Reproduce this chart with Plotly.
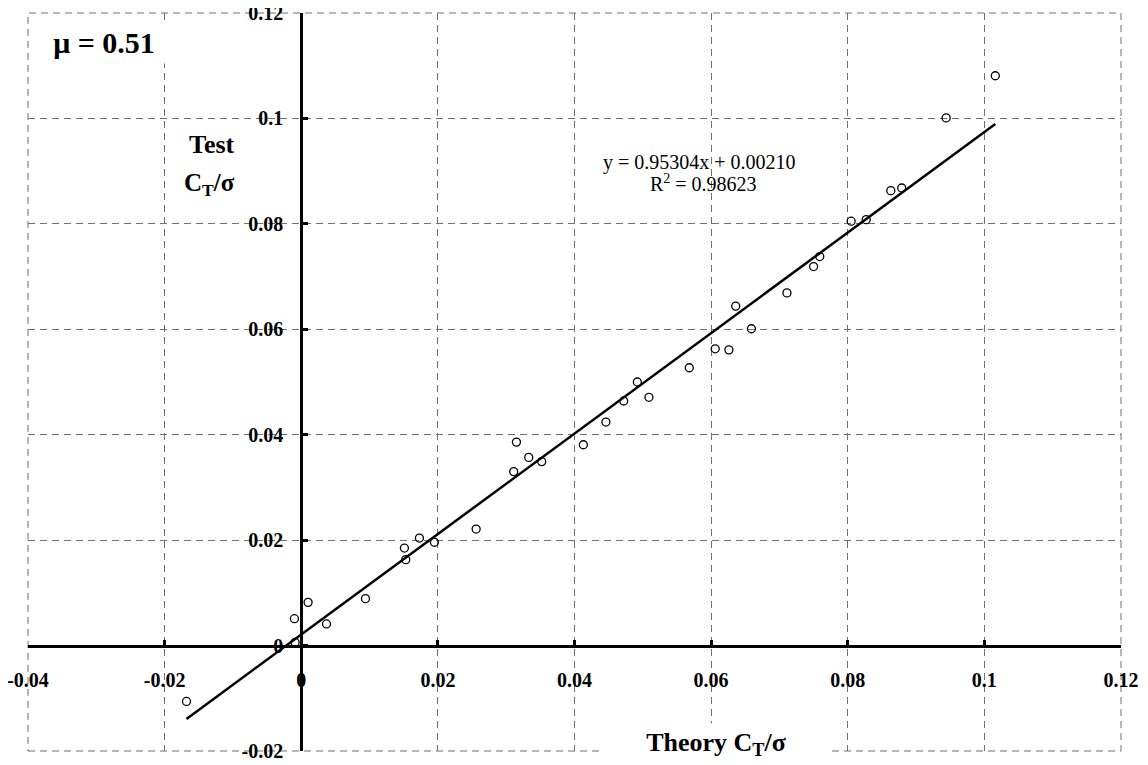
import plotly.graph_objects as go

# theory vs test thrust coefficient, mu = 0.51
theory_ct = [-0.0168, -0.0010, -0.0009, 0.0010, 0.0037, 0.0094, 0.0151, 0.0153,
             0.0173, 0.0195, 0.0256, 0.0311, 0.0315, 0.0333, 0.0352, 0.0413,
             0.0446, 0.0472, 0.0492, 0.0509, 0.0568, 0.0606, 0.0626, 0.0636,
             0.0659, 0.0711, 0.0750, 0.0759, 0.0805, 0.0827, 0.0863, 0.0879,
             0.0944, 0.1016]
test_ct = [-0.0106, 0.0051, 0.0006, 0.0082, 0.0041, 0.0089, 0.0185, 0.0163,
           0.0204, 0.0196, 0.0221, 0.0330, 0.0386, 0.0357, 0.0349, 0.0381,
           0.0424, 0.0464, 0.0500, 0.0471, 0.0527, 0.0563, 0.0561, 0.0644,
           0.0601, 0.0669, 0.0719, 0.0738, 0.0805, 0.0808, 0.0863, 0.0868,
           0.1001, 0.1081]

slope = 0.95304
intercept = 0.00210
r_squared = 0.98623
mu = 0.51

x_ticks = [-0.04, -0.02, 0, 0.02, 0.04, 0.06, 0.08, 0.1, 0.12]
x_ticktext = ["-0.04", "-0.02", "0", "0.02", "0.04", "0.06", "0.08", "0.1", "0.12"]
y_ticks = [-0.02, 0, 0.02, 0.04, 0.06, 0.08, 0.1, 0.12]
y_ticktext = ["-0.02", "0", "0.02", "0.04", "0.06", "0.08", "0.1", "0.12"]

FONT = "Liberation Serif"
GRID = "#707070"
DASH = "7px,5px"
EPS = 1e-7  # keeps the end ticks (0.12) inside the range

fig = go.Figure()

# trendline across the data span
x_fit = [min(theory_ct), max(theory_ct)]
y_fit = [slope * v + intercept for v in x_fit]
fig.add_trace(go.Scatter(x=x_fit, y=y_fit, mode="lines",
                         line=dict(color="black", width=2.5), hoverinfo="skip"))

fig.add_trace(go.Scatter(x=theory_ct, y=test_ct, mode="markers",
                         marker=dict(symbol="circle-open", size=8, color="black",
                                     line=dict(width=1.3, color="black"))))

grid = dict(showgrid=True, gridcolor=GRID, gridwidth=1, griddash=DASH,
            zeroline=False, showline=True, linecolor="black", linewidth=3,
            ticks="inside", ticklen=5, tickwidth=2.5, tickcolor="black",
            automargin=False, ticklabeloverflow="allow",
            tickfont=dict(family=FONT, size=20, color="black", weight="bold"))

# page body adds 8px, so the figure is 8px smaller each way
fig.update_layout(
    width=1140, height=757,
    margin=dict(l=20, r=26.5, t=5, b=14.3),
    paper_bgcolor="white", plot_bgcolor="white",
    font=dict(family=FONT, color="black"),
    showlegend=False,
    xaxis=dict(range=[-0.04 - EPS, 0.12 + EPS], tickvals=x_ticks, ticktext=x_ticktext,
               anchor="free", position=1 / 7, ticklabelstandoff=15, **grid),
    yaxis=dict(range=[-0.02 - EPS, 0.12 + EPS], tickvals=y_ticks, ticktext=y_ticktext,
               anchor="free", position=0.25, ticklabelstandoff=13, **grid),
)

# dashed frame round the plot area (outer gridlines)
fig.add_shape(type="rect", xref="paper", yref="paper", x0=0, y0=0, x1=1, y1=1,
              line=dict(color=GRID, width=1, dash=DASH), layer="below")

bold = dict(family=FONT, color="black", weight="bold")
label = dict(xref="paper", yref="paper", showarrow=False,
             xanchor="center", yanchor="middle")
fig.add_annotation(x=0.0695, y=0.9607, text=f"μ = {mu}",
                   font=dict(size=30, **bold), bgcolor="white", width=122,
                   borderpad=4, **label)
fig.add_annotation(x=0.1683, y=0.8223, text="Test", font=dict(size=26, **bold), **label)
fig.add_annotation(x=0.1665, y=0.768, text="C<sub>T</sub>/σ",
                   font=dict(size=25, **bold), **label)
fig.add_annotation(x=0.6295, y=0.010, text="Theory C<sub>T</sub>/σ",
                   font=dict(size=26, **bold), bgcolor="white", width=220,
                   borderpad=4, **label)

fig.add_annotation(x=0.6145, y=0.798, text=f"y = {slope:.5f}x + {intercept:.5f}",
                   font=dict(family=FONT, size=20, color="black"), **label)
fig.add_annotation(x=0.6180, y=0.7695, text=f"R<sup>2</sup> = {r_squared:.5f}",
                   font=dict(family=FONT, size=20, color="black"), **label)

fig.write_html("out.html")
